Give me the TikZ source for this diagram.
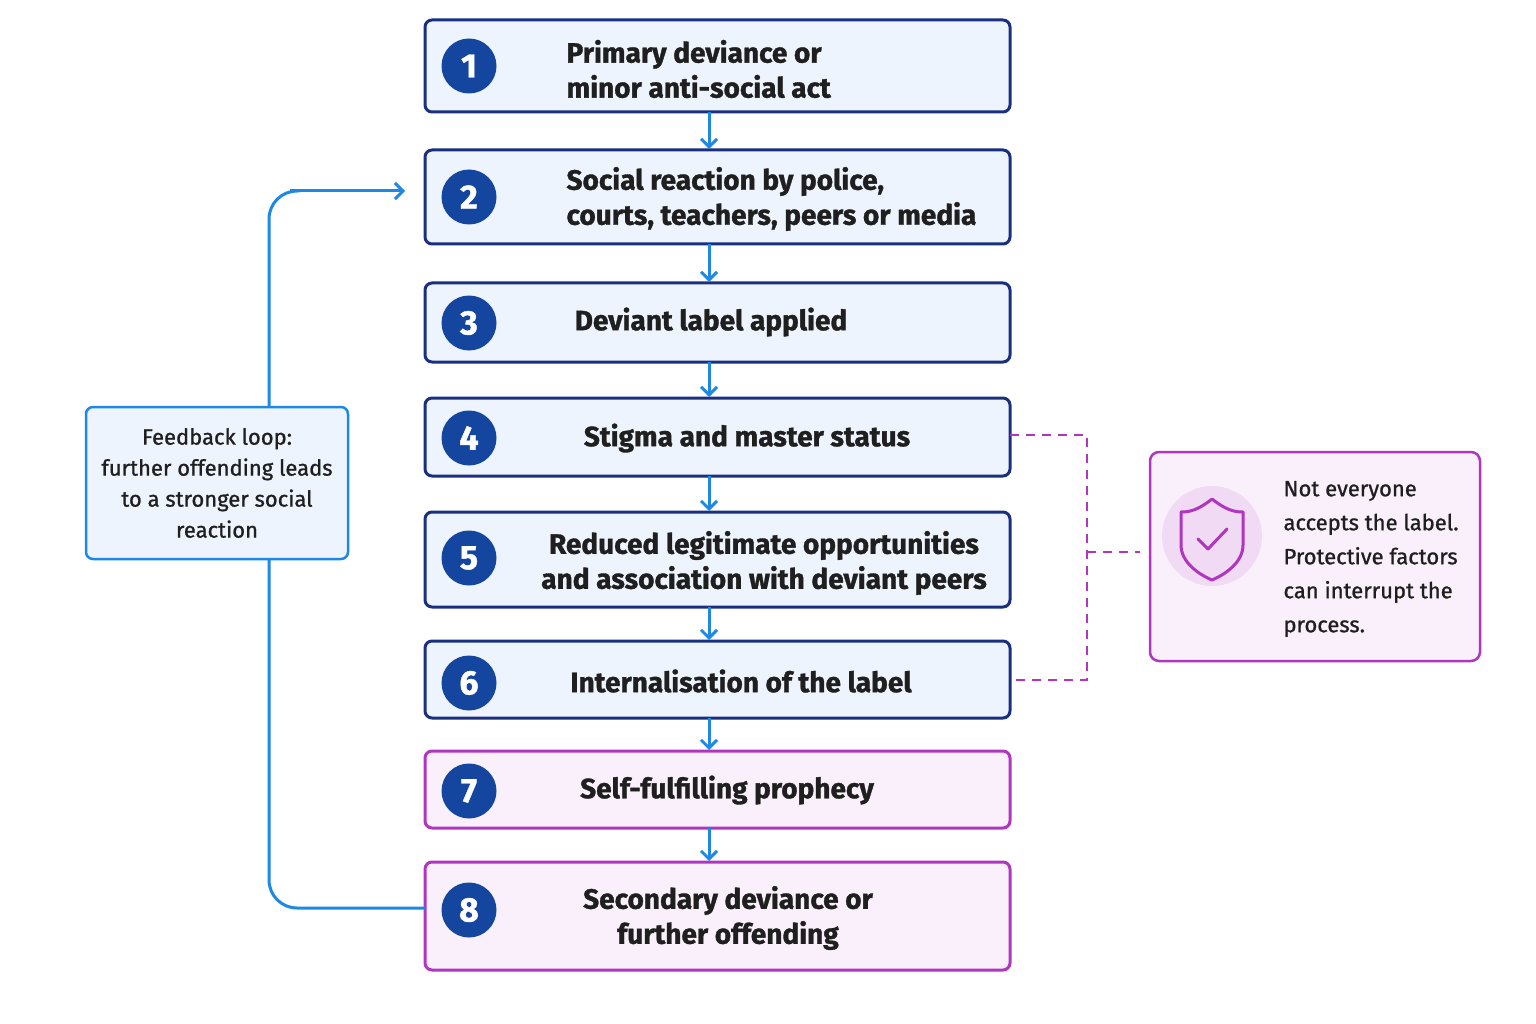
\documentclass[tikz,border=0pt]{standalone}
\usepackage{fontspec}
\setmainfont{Fira Sans}[FakeBold=1.2]
\newfontfamily\medfont{Fira Sans}[FakeBold=1.0]
\usetikzlibrary{arrows.meta}
\definecolor{navy}{HTML}{1A2F80}
\definecolor{bfill}{HTML}{EEF4FD}
\definecolor{pur}{HTML}{B036C0}
\definecolor{pfill}{HTML}{FAF0FB}
\definecolor{circ}{HTML}{1446A0}
\definecolor{arr}{HTML}{1E88E5}
\begin{document}
\begin{tikzpicture}[x=1pt,y=-1pt,
 bbox/.style={draw=navy,fill=bfill,line width=3pt,rounded corners=7pt},
 pbox/.style={draw=pur,fill=pfill,line width=3pt,rounded corners=7pt},
 num/.style={circle,fill=circ,minimum size=55pt,inner sep=0pt,text=white,font=\bfseries\fontsize{34}{34}\selectfont},
 lbl/.style={font=\bfseries\fontsize{28}{35}\selectfont,text=black!88,align=center},
 flow/.style={draw=arr,line width=3pt,-{Straight Barb[length=8pt,width=16pt]}},
 loop/.style={draw=arr,line width=3pt,rounded corners=28pt},
 dsh/.style={draw=pur,line width=2.5pt,dash pattern=on 9pt off 7pt}]
\useasboundingbox (0,0) rectangle (1536,1024);
\fill[white] (0,0) rectangle (1536,1024);
\path[bbox] (425,20) rectangle (1010,112);
\path[bbox] (425,150) rectangle (1010,244);
\path[bbox] (425,283) rectangle (1010,362);
\path[bbox] (425,398) rectangle (1010,476);
\path[bbox] (425,512) rectangle (1010,607);
\path[bbox] (425,641) rectangle (1010,718);
\path[pbox] (425,751) rectangle (1010,828);
\path[pbox] (425,862) rectangle (1010,970);
\foreach \i/\y in {1/66,2/197,3/323,4/438,5/558,6/683,7/791,8/910}
  \node[num] (n\i) at (469,\y) {\i};
\node[lbl,align=left,anchor=west] (t1) at (563,69) {Primary deviance or\\minor anti-social act};
\node[lbl,align=left,anchor=west] (t2) at (563,199) {Social reaction by police,\\courts, teachers, peers or media};
\node[lbl] (t3) at (711,322) {Deviant label applied};
\node[lbl] (t4) at (747,438) {Stigma and master status};
\node[lbl] (t5) at (764,563) {Reduced legitimate opportunities\\and association with deviant peers};
\node[lbl] (t6) at (741,681) {Internalisation of the label};
\node[lbl] (t7) at (727,790) {Self-fulfilling prophecy};
\node[lbl] (t8) at (728,918) {Secondary deviance or\\further offending};
\foreach \a/\b in {112/150,244/283,362/398,476/512,607/641,718/751,828/862}
  \draw[flow] (709,\a) -- (709,\b-1);
\node[draw=arr,fill=bfill,line width=2.5pt,rounded corners=7pt,minimum width=262pt,minimum height=152pt,align=center,font=\medfont\fontsize{22}{31}\selectfont,text=black!88] (fb) at (217,483) {Feedback loop:\\further offending leads\\to a stronger social\\reaction};
\draw[loop] (269,406) -- (269,191) -- (300,191);
\draw[flow] (290,191) -- (405,191);
\draw[loop] (269,560) -- (269,908) -- (425,908);
\draw[dsh] (1010,435) -- (1087,435) -- (1087,680) -- (1010,680);
\draw[dsh] (1087,552) -- (1140,552);
\node[draw=pur,fill=pfill,line width=2.5pt,rounded corners=9pt,minimum width=330pt,minimum height=209pt] (nb) at (1315,556.5) {};
\fill[pur!18] (1212,536) circle (50);
\draw[pur,line width=3pt,line join=round] (1212,499) .. controls (1198,510) and (1190,512) .. (1181,512) -- (1181,545) .. controls (1181,562) and (1198,574) .. (1212,580) .. controls (1226,574) and (1243,562) .. (1243,545) -- (1243,512) .. controls (1234,512) and (1226,510) .. (1212,499) -- cycle;
\draw[pur,line width=3pt,line cap=round,line join=round] (1198,539) -- (1208,549) -- (1227,529);
\node[anchor=west,align=left,font=\medfont\fontsize{22}{34}\selectfont,text=black!88] (nt) at (1280,559) {Not everyone\\accepts the label.\\Protective factors\\can interrupt the\\process.};
\end{tikzpicture}
\end{document}
